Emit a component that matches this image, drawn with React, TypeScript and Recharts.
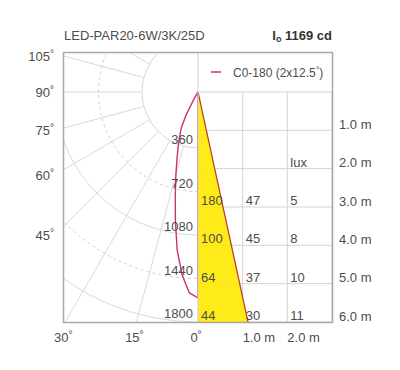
import {
  RadarChart,
  Radar,
  PolarGrid,
  PolarAngleAxis,
  PolarRadiusAxis,
  ComposedChart,
  Area,
  Scatter,
  XAxis,
  YAxis,
  CartesianGrid,
} from "recharts";

// C0-180 intensity curve: angle from nadir (deg) and intensity (cd)
const curveAngles = [0, 2.5, 5, 7.5, 10, 12.5, 15, 17.5, 20, 22.5, 25, 27.5, 30, 32.5];
const curveCd = [1169, 1140, 1040, 905, 740, 595, 485, 395, 330, 272, 225, 145, 45, 0];

// polar grid
const ringsSolid = [360, 1080, 1800];
const ringsDashed = [720, 1440];
const ringLabels = [360, 720, 1080, 1440, 1800];
const spokeAngles = [-165, -150, -135, -120, -105, -90, -75, -60, -45, -30, -15, 0, 15, 30, 45, 60, 75, 90, 105, 120, 135, 150, 165, 180];
const angleLabels = [0, 15, 30, 45, 60, 75, 90, 105];

// cone diagram (metres)
const distanceTicks = [0, 1, 2, 3, 4, 5, 6];
const widthTicks = [1, 2];
const coneDist = [0, 6];
const coneHalfWidth = [0, 1.12];
const tableDist = [3, 4, 5, 6];
const luxValues = [180, 100, 64, 44];
const col2Values = [47, 45, 37, 30];
const col3Values = [5, 8, 10, 11];

const curveData = curveAngles.map((a, i) => ({ a, cd: curveCd[i] }));
const coneData = coneDist.map((d, i) => ({ w: coneHalfWidth[i], d }));
const cells = (col: number, vals: (number | string)[], rows = tableDist) =>
  rows.map((d, i) => ({ w: col, d, v: vals[i] }));

const CX = 198;
const CY = 92;
const BOX_L = 64;
const BOX_T = 53;
const BOX_R = 332;
const BOX_B = 322;

const FONT = '"Liberation Sans", Arial, sans-serif';
const TEXT = "#4d4d4d";
const GRID = "#d9d9d9";
const CURVE = "#c93370";
const EDGE = "#b8392f";
const YELLOW = "#ffe900";

const noMargin = { top: 0, right: 0, bottom: 0, left: 0 };
const polarFrame = {
  width: CX - BOX_L,
  height: BOX_B - BOX_T,
  cx: CX - BOX_L,
  cy: CY - BOX_T,
  startAngle: 90,
  endAngle: -270,
  margin: noMargin,
  data: curveData,
};

const Deg = ({ size = 10 }: { size?: number }) => (
  <tspan fontSize={size} dy={-4}>°</tspan>
);

const AngleTick = (p: any) => {
  const a = (-p.payload.coordinate * Math.PI) / 180;
  const dx = Math.cos(a);
  const dy = Math.sin(a);
  const v = p.payload.value;
  if (v >= 45) {
    const y = CY + ((BOX_L - CX) / dx) * dy;
    return (
      <text x={54} y={y + Math.max(0, (y - CY) * 0.07) + 5} textAnchor="end" fontSize={13} fill={TEXT} fontFamily={FONT}>
        {v}
        <Deg />
      </text>
    );
  }
  const x = CX + ((BOX_B - CY) / dy) * dx;
  return (
    <text x={x - 2} y={BOX_B + 20} textAnchor="middle" fontSize={13} fill={TEXT} fontFamily={FONT}>
      {v}
      <Deg />
    </text>
  );
};

const RingTick = (p: any) => (
  <text x={p.x - 5} y={p.y - 4} textAnchor="end" fontSize={13} fill={TEXT} fontFamily={FONT}>
    {p.payload.value}
  </text>
);

const DistTick = (p: any) =>
  p.payload.value === 0 ? (
    <g />
  ) : (
    <text x={p.x} y={p.y - 1.5} textAnchor="start" fontSize={13} fill={TEXT} fontFamily={FONT}>
      {p.payload.value.toFixed(1)} m
    </text>
  );

const WidthTick = (p: any) => (
  <text x={p.x} y={p.y + 20} textAnchor="start" fontSize={13} fill={TEXT} fontFamily={FONT}>
    {p.payload.value.toFixed(1)} m
  </text>
);

const CellText = (p: any) => (
  <text x={p.cx + 3} y={p.cy - 2} fontSize={13} fill={TEXT} fontFamily={FONT}>
    {p.payload.v}
  </text>
);

const abs = (left: number, top: number) => ({ position: "absolute" as const, left, top });

export default function App() {
  return (
    <div style={{ position: "absolute", left: 0, top: 0, width: 400, height: 370, background: "#fff" }}>
      {/* polar part, clipped to the left half of the frame */}
      <div style={{ ...abs(BOX_L, BOX_T), width: CX - BOX_L, height: BOX_B - BOX_T, overflow: "hidden" }}>
        <div style={abs(0, 0)}>
          <RadarChart {...polarFrame} innerRadius={56} outerRadius={273.5}>
            <PolarAngleAxis dataKey="a" type="number" domain={[-180, 180]} ticks={spokeAngles} tick={false} axisLine={false} tickLine={false} />
            <PolarRadiusAxis domain={[360, 2160]} ticks={ringsSolid} tick={false} axisLine={false} tickLine={false} allowDataOverflow />
            <PolarGrid gridType="circle" stroke={GRID} />
          </RadarChart>
        </div>
        <div style={abs(0, 0)}>
          <RadarChart {...polarFrame} innerRadius={56} outerRadius={273.5}>
            <PolarAngleAxis dataKey="a" type="number" domain={[-180, 180]} ticks={spokeAngles} tick={false} axisLine={false} tickLine={false} />
            <PolarRadiusAxis domain={[360, 2160]} ticks={ringsDashed} tick={false} axisLine={false} tickLine={false} allowDataOverflow />
            <PolarGrid gridType="circle" radialLines={false} stroke="#cfcfcf" strokeDasharray="3 3" />
          </RadarChart>
        </div>
        <div style={abs(0, 0)}>
          <RadarChart {...polarFrame} innerRadius={0} outerRadius={206}>
            <PolarAngleAxis dataKey="a" type="number" domain={[-180, 180]} tick={false} axisLine={false} tickLine={false} />
            <PolarRadiusAxis domain={[0, 1169]} tick={false} axisLine={false} tickLine={false} allowDataOverflow />
            <Radar dataKey="cd" stroke={CURVE} strokeWidth={1.4} fill="none" fillOpacity={0} dot={false} isAnimationActive={false} />
          </RadarChart>
        </div>
      </div>

      {/* cone / illuminance panel */}
      <div style={abs(CX, BOX_T)}>
        <ComposedChart width={400 - CX} height={370 - BOX_T} data={coneData} margin={{ top: CY - BOX_T, right: 8, bottom: 18, left: 0 }}>
          <CartesianGrid stroke="#d4d4d4" />
          <XAxis dataKey="w" type="number" domain={[0, 3]} ticks={widthTicks} tick={WidthTick} tickLine={false} axisLine={false} tickSize={0} tickMargin={0} height={30} />
          <YAxis dataKey="d" type="number" domain={[0, 6]} reversed orientation="right" ticks={distanceTicks} tick={DistTick} tickLine={false} axisLine={false} tickSize={0} tickMargin={7} width={60} />
          <Area dataKey="d" type="linear" baseValue="dataMax" fill={YELLOW} fillOpacity={0.9} stroke={EDGE} strokeWidth={1.2} isAnimationActive={false} />
          <Scatter data={cells(0, luxValues)} shape={CellText} isAnimationActive={false} />
          <Scatter data={cells(1, col2Values)} shape={CellText} isAnimationActive={false} />
          <Scatter data={cells(2, col3Values)} shape={CellText} isAnimationActive={false} />
          <Scatter data={cells(2, ["lux"], [2])} shape={CellText} isAnimationActive={false} />
        </ComposedChart>
      </div>

      {/* frame, titles, legend */}
      <svg width={400} height={370} style={{ ...abs(0, 0), pointerEvents: "none" }} fontFamily={FONT}>
        <line x1={CX} y1={BOX_T} x2={CX} y2={BOX_B} stroke="#d4d4d4" />
        <rect x={BOX_L - 0.5} y={BOX_T - 0.5} width={BOX_R - BOX_L + 1} height={BOX_B - BOX_T + 1} fill="none" stroke="#a8a8a8" strokeWidth={1.5} />
        <text x={BOX_L} y={39.5} fontSize={13} fill={TEXT}>LED-PAR20-6W/3K/25D</text>
        <text x={BOX_R} y={39.5} fontSize={13} fill="#333" fontWeight="bold" textAnchor="end">
          I<tspan fontSize={9} dy={2}>o</tspan>
          <tspan dy={-2}> 1169 cd</tspan>
        </text>
        <line x1={211} y1={72} x2={221} y2={72} stroke={CURVE} strokeWidth={1.5} />
        <text x={233} y={76.5} fontSize={12} fill={TEXT}>
          C0-180 (2x12.5<Deg size={9} />
          <tspan dy={4}>)</tspan>
        </text>
      </svg>

      {/* polar axis labels */}
      <div style={{ ...abs(0, 0), pointerEvents: "none" }}>
        <RadarChart width={400} height={370} cx={CX} cy={CY} startAngle={90} endAngle={-270} innerRadius={56} outerRadius={273.5} margin={noMargin} data={curveData}>
          <PolarAngleAxis dataKey="a" type="number" domain={[-180, 180]} ticks={angleLabels} tick={AngleTick} axisLine={false} tickLine={false} />
          <PolarRadiusAxis angle={-90} domain={[360, 2160]} ticks={ringLabels} tick={RingTick} axisLine={false} tickLine={false} allowDataOverflow />
        </RadarChart>
      </div>
    </div>
  );
}
